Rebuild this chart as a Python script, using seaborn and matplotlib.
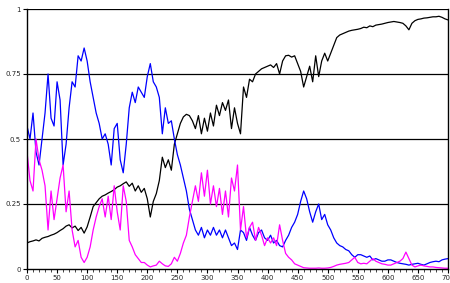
import numpy as np
import pandas as pd
import matplotlib
matplotlib.use("Agg")
import matplotlib.pyplot as plt
import seaborn as sns

# x positions, one reading every 5 units
x = list(range(0, 705, 5))

black = [0.100, 0.105, 0.108, 0.112, 0.108, 0.118, 0.122, 0.125, 0.130, 0.134,
         0.140, 0.148, 0.155, 0.165, 0.170, 0.158, 0.165, 0.148, 0.160, 0.138,
         0.162, 0.200, 0.240, 0.255, 0.270, 0.280, 0.285, 0.292, 0.298, 0.305,
         0.315, 0.320, 0.328, 0.335, 0.318, 0.330, 0.300, 0.320, 0.295, 0.310,
         0.270, 0.200, 0.260, 0.290, 0.340, 0.430, 0.390, 0.420, 0.380, 0.480,
         0.520, 0.560, 0.585, 0.595, 0.590, 0.570, 0.540, 0.590, 0.520, 0.580,
         0.530, 0.600, 0.550, 0.630, 0.590, 0.640, 0.610, 0.650, 0.540, 0.620,
         0.560, 0.520, 0.700, 0.660, 0.730, 0.720, 0.750, 0.760, 0.770, 0.775,
         0.780, 0.785, 0.775, 0.790, 0.750, 0.800, 0.820, 0.822, 0.815, 0.820,
         0.790, 0.760, 0.700, 0.740, 0.780, 0.720, 0.820, 0.740, 0.800, 0.830,
         0.800, 0.830, 0.860, 0.890, 0.900, 0.905, 0.910, 0.915, 0.918, 0.920,
         0.922, 0.925, 0.930, 0.928, 0.935, 0.932, 0.938, 0.940, 0.942, 0.945,
         0.948, 0.950, 0.952, 0.950, 0.948, 0.945, 0.935, 0.920, 0.945, 0.955,
         0.960, 0.962, 0.965, 0.966, 0.968, 0.970, 0.970, 0.972, 0.968, 0.962,
         0.958]

blue = [0.55, 0.50, 0.60, 0.45, 0.40, 0.50, 0.60, 0.75, 0.58, 0.55,
        0.72, 0.65, 0.40, 0.48, 0.62, 0.72, 0.70, 0.82, 0.80, 0.85,
        0.80, 0.72, 0.66, 0.60, 0.56, 0.50, 0.52, 0.48, 0.40, 0.54,
        0.56, 0.42, 0.37, 0.48, 0.62, 0.68, 0.64, 0.70, 0.68, 0.66,
        0.74, 0.79, 0.72, 0.70, 0.66, 0.52, 0.62, 0.56, 0.57, 0.50,
        0.44, 0.40, 0.35, 0.30, 0.23, 0.19, 0.15, 0.13, 0.16, 0.12,
        0.15, 0.13, 0.16, 0.13, 0.15, 0.12, 0.15, 0.12, 0.09, 0.10,
        0.075, 0.15, 0.14, 0.11, 0.16, 0.13, 0.11, 0.14, 0.15, 0.12,
        0.11, 0.13, 0.10, 0.11, 0.09, 0.085, 0.11, 0.13, 0.16, 0.18,
        0.21, 0.26, 0.30, 0.27, 0.22, 0.18, 0.22, 0.25, 0.19, 0.21,
        0.17, 0.15, 0.12, 0.10, 0.09, 0.085, 0.075, 0.07, 0.055, 0.045,
        0.055, 0.055, 0.05, 0.045, 0.05, 0.035, 0.04, 0.035, 0.03, 0.03,
        0.035, 0.035, 0.03, 0.025, 0.022, 0.02, 0.018, 0.015, 0.018, 0.02,
        0.022, 0.018, 0.015, 0.02, 0.025, 0.028, 0.03, 0.028, 0.035, 0.038,
        0.04]

magenta = [0.45, 0.34, 0.30, 0.50, 0.42, 0.38, 0.32, 0.15, 0.30, 0.19,
           0.27, 0.35, 0.40, 0.22, 0.30, 0.15, 0.085, 0.11, 0.045, 0.025,
           0.045, 0.085, 0.15, 0.20, 0.24, 0.27, 0.20, 0.28, 0.19, 0.32,
           0.22, 0.15, 0.32, 0.26, 0.11, 0.085, 0.055, 0.04, 0.025, 0.025,
           0.015, 0.008, 0.012, 0.015, 0.03, 0.02, 0.012, 0.01, 0.02, 0.045,
           0.03, 0.06, 0.10, 0.13, 0.20, 0.26, 0.32, 0.26, 0.37, 0.28,
           0.38, 0.25, 0.32, 0.24, 0.31, 0.21, 0.30, 0.20, 0.35, 0.30,
           0.40, 0.15, 0.24, 0.12, 0.16, 0.18, 0.11, 0.16, 0.13, 0.09,
           0.12, 0.10, 0.12, 0.09, 0.17, 0.11, 0.06, 0.045, 0.035, 0.02,
           0.015, 0.01, 0.005, 0.004, 0.003, 0.003, 0.003, 0.004, 0.003, 0.003,
           0.004, 0.006, 0.01, 0.015, 0.018, 0.02, 0.022, 0.025, 0.035, 0.045,
           0.025, 0.02, 0.022, 0.02, 0.03, 0.04, 0.03, 0.025, 0.02, 0.018,
           0.015, 0.015, 0.02, 0.025, 0.03, 0.04, 0.065, 0.04, 0.015, 0.008,
           0.012, 0.015, 0.012, 0.01, 0.008, 0.008, 0.006, 0.005, 0.004, 0.003,
           0.003]

series_names = ["black", "blue", "magenta"]
colors = {"black": "#000000", "blue": "#0000ff", "magenta": "#ff00ff"}

df = pd.concat([
    pd.DataFrame({"x": x, "value": black, "series": "black"}),
    pd.DataFrame({"x": x, "value": blue, "series": "blue"}),
    pd.DataFrame({"x": x, "value": magenta, "series": "magenta"}),
])

sns.set_style("white")
plt.rcParams["font.family"] = ["DejaVu Sans"]

fig = plt.figure(figsize=(4.5, 2.83), dpi=100)
ax = fig.add_axes([27/450, 14/283, 421/450, 260/283])

# horizontal grid lines first so the data sits on top
for yv in [0.25, 0.5, 0.75, 1.0]:
    ax.axhline(yv, color="black", lw=0.9, zorder=1)

sns.lineplot(data=df, x="x", y="value", hue="series", hue_order=series_names,
             palette=colors, legend=False, lw=0.9, ax=ax, zorder=2)

ax.set_xlim(0, 700)
ax.set_ylim(0, 1)
ax.set_xticks(range(0, 701, 50))
ax.set_xticks(range(0, 701, 10), minor=True)
ax.set_yticks([0, 0.25, 0.5, 0.75, 1])
ax.set_yticklabels(["0", "0.25", "0.5", "0.75", "1"])
ax.set_xlabel("")
ax.set_ylabel("")
ax.tick_params(axis="both", labelsize=5, length=3, width=0.8, color="black",
               pad=1.5, direction="out")
ax.tick_params(axis="x", which="minor", length=2, width=0.6, direction="out")
ax.tick_params(axis="y", left=True)
ax.tick_params(axis="x", bottom=True, which="both")

for side in ["left", "right", "bottom"]:
    ax.spines[side].set_color("black")
    ax.spines[side].set_linewidth(1.0)
ax.spines["top"].set_visible(False)

fig.savefig("out.png", dpi=100)
